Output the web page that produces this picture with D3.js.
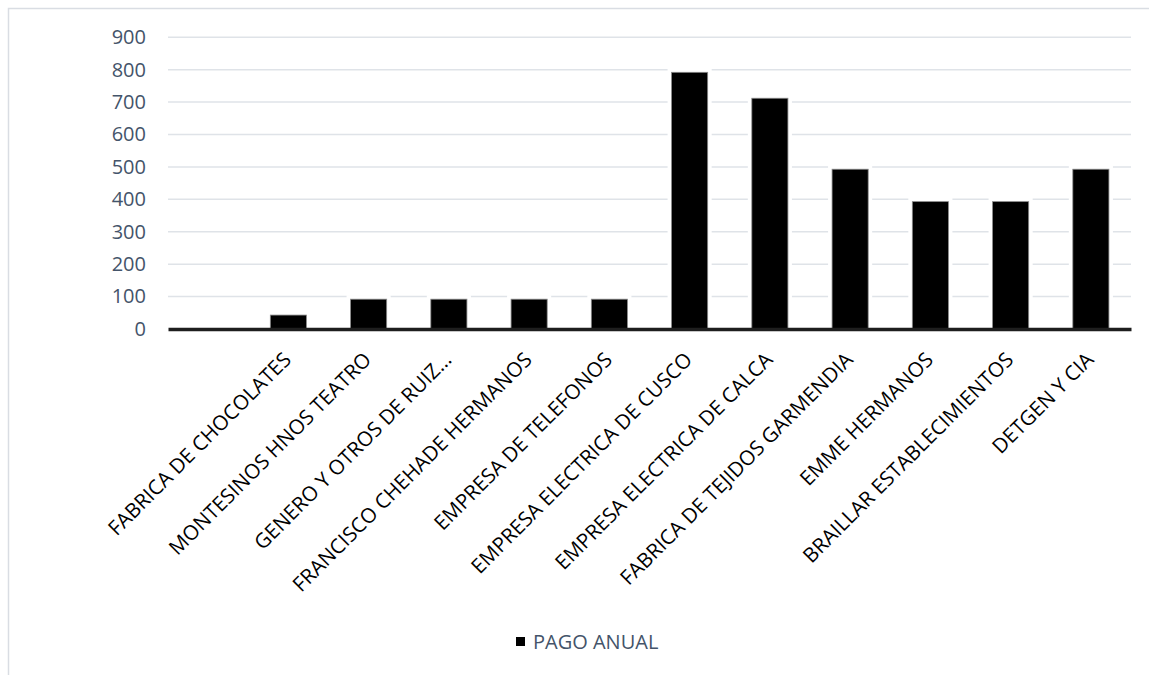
<!DOCTYPE html>
<html>
<head>
<meta charset="utf-8">
<script src="https://cdn.jsdelivr.net/npm/d3@7"></script>
<style>
  html, body { margin: 0; padding: 0; background: #fff; }
  svg { display: block; }
</style>
</head>
<body>
<svg id="chart" width="1149" height="675"></svg>
<script>
// ---- data ----
const categories = [
  "",
  "FABRICA DE CHOCOLATES",
  "MONTESINOS HNOS TEATRO",
  "GENERO Y OTROS DE RUIZ…",
  "FRANCISCO CHEHADE HERMANOS",
  "EMPRESA DE TELEFONOS",
  "EMPRESA ELECTRICA DE CUSCO",
  "EMPRESA ELECTRICA DE CALCA",
  "FABRICA DE TEJIDOS GARMENDIA",
  "EMME HERMANOS",
  "BRAILLAR ESTABLECIMIENTOS",
  "DETGEN Y CIA"
];
const pagoAnual = [0, 43, 92, 92, 92, 92, 792, 712, 493, 393, 393, 493];
const yTicks = [0, 100, 200, 300, 400, 500, 600, 700, 800, 900];
const seriesName = "PAGO ANUAL";

// ---- chart ----
const svg = d3.select("#chart");
const FONT = "'Open Sans', 'DejaVu Sans', sans-serif";
const plotL = 168, plotR = 1131, plotT = 37.3, plotB = 329;

// outer chart border
svg.append("rect")
  .attr("x", 8.5).attr("y", 8.5)
  .attr("width", 1200).attr("height", 700)
  .attr("fill", "none").attr("stroke", "#d9dde3").attr("stroke-width", 1.5);

const x = d3.scaleBand().domain(categories).range([plotL, plotR])
  .paddingInner(0.55).paddingOuter(0.275);
const y = d3.scaleLinear().domain([0, 900]).range([plotB, plotT]);

// gridlines
svg.append("g")
  .selectAll("line").data(yTicks.filter(d => d > 0)).join("line")
  .attr("x1", plotL).attr("x2", plotR)
  .attr("y1", d => y(d)).attr("y2", d => y(d))
  .attr("stroke", "#dfe3e8").attr("stroke-width", 1.5);

// y axis labels
const yAxis = d3.axisLeft(y).tickValues(yTicks).tickSize(0).tickPadding(22);
const yg = svg.append("g").attr("transform", `translate(${plotL},0)`).call(yAxis);
yg.select(".domain").remove();
yg.selectAll("text")
  .attr("fill", "#44546a").attr("font-family", FONT).attr("font-size", "20px");

// bars: white halo then bar
const barData = categories.map((c, i) => ({c, v: pagoAnual[i]})).filter(d => d.v > 0);
const bars = svg.append("g");
bars.selectAll("rect.halo").data(barData)
  .join("rect").attr("class", "halo")
  .attr("x", d => x(d.c) - 4).attr("width", x.bandwidth() + 8)
  .attr("y", d => y(d.v) - 4).attr("height", d => y(0) - y(d.v) + 4)
  .attr("fill", "#fff");
bars.selectAll("rect.bar").data(barData)
  .join("rect").attr("class", "bar")
  .attr("x", d => x(d.c)).attr("width", x.bandwidth())
  .attr("y", d => y(d.v)).attr("height", d => y(0) - y(d.v))
  .attr("fill", "#000").attr("stroke", "#8a8a8a").attr("stroke-width", 0.8);

// x axis
const xAxis = d3.axisBottom(x).tickSize(0).tickPadding(0);
const xg = svg.append("g").attr("transform", `translate(0,${plotB})`).call(xAxis);
xg.select(".domain")
  .attr("stroke", "#1e1e1e").attr("stroke-width", 3.5);
xg.selectAll("text")
  .attr("y", 0).attr("dy", null)
  .attr("text-anchor", "end")
  .attr("transform", "translate(4,32) rotate(-45)")
  .attr("fill", "#000").attr("font-family", FONT).attr("font-size", "20.5px");

// legend
const lg = svg.append("g");
lg.append("rect").attr("x", 516).attr("y", 637).attr("width", 9).attr("height", 9).attr("fill", "#000");
lg.append("text").attr("x", 533).attr("y", 649)
  .attr("fill", "#44546a").attr("font-family", FONT).attr("font-size", "20px")
  .text(seriesName);
</script>
</body>
</html>
